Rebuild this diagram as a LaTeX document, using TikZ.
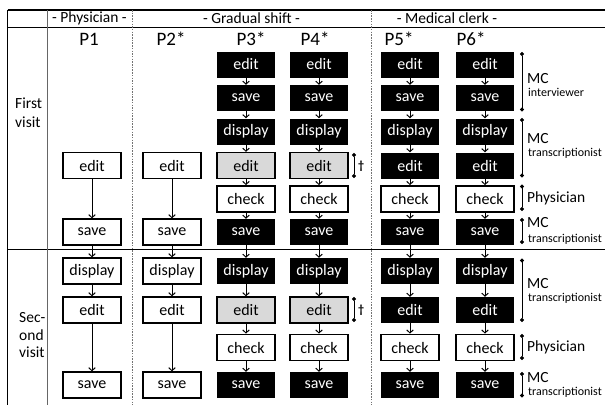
\documentclass[tikz,border=0pt]{standalone}
\usepackage{fontspec}
\setmainfont{Carlito}
\usetikzlibrary{arrows.meta}
\begin{document}
\begin{tikzpicture}[x=1pt,y=-1pt,
  box/.style={minimum width=58pt,minimum height=26pt,inner sep=0pt,font=\fontsize{16}{16}\selectfont},
  blk/.style={box,fill=black,text=white},
  wht/.style={box,draw=black,line width=1.3pt,fill=white},
  gry/.style={box,draw=black,line width=1.3pt,fill=black!15},
  chk/.style={box,draw=black,line width=1.8pt,fill=white},
  arr/.style={-{Straight Barb[length=3pt,width=6.5pt]},line width=1pt},
  brk/.style={line width=0.9pt,{Circle[length=4pt]}-{Circle[length=4pt]}},
  hdr/.style={font=\fontsize{15.5}{16}\selectfont,inner sep=0pt},
  plab/.style={font=\fontsize{19}{20}\selectfont,inner sep=0pt},
  role/.style={font=\fontsize{15.5}{16}\selectfont,inner sep=0pt,anchor=base west,text depth=0pt},
  rolec/.style={font=\fontsize{15.5}{16}\selectfont,inner sep=0pt,anchor=west},
  sub/.style={font=\fontsize{12}{13}\selectfont,inner sep=0pt,anchor=base west,text height=8pt},
  dag/.style={font=\fontsize{12}{13}\selectfont,inner sep=0pt,anchor=west},
  rule/.style={line width=0.9pt},
  grule/.style={line width=0.9pt,draw=black!60},
  dline/.style={line width=0.8pt,draw=black!55,dash pattern=on 1.5pt off 1.2pt}
]
\useasboundingbox (0,0) rectangle (605,405);
% table rules
\draw[line width=1.6pt] (7.5,10) -- (605,10);
\draw[rule] (7.5,27) -- (605,27);
\draw[rule] (7.5,249) -- (605,249);
\draw[rule] (7.5,10) -- (7.5,405);
\draw[grule] (47,10) -- (47,405);
\draw[dline] (132,10) -- (132,405);
\draw[dline] (371,10) -- (371,405);
% headers
\node[hdr] (h1) at (89.5,18.5) {- Physician -};
\node[hdr] (h2) at (251.5,18.5) {- Gradual shift -};
\node[hdr] (h3) at (447,18.5) {- Medical clerk -};
\node[plab] (l1) at (89,39) {P1};
\node[plab] (l2) at (171,39) {P2*};
\node[plab] (l3) at (251,39) {P3*};
\node[plab] (l4) at (315,39) {P4*};
\node[plab] (l5) at (399,39) {P5*};
\node[plab] (l6) at (471,39) {P6*};
\node[hdr,align=left,anchor=west,font=\fontsize{15.5}{19}\selectfont] (v1) at (15,112.5) {First\\visit};
\node[hdr,align=left,anchor=west,font=\fontsize{15.5}{17.5}\selectfont] (v2) at (19,335.5) {Sec-\\ond\\visit};
% P1 and P2
\foreach \c/\x in {1/92,2/172}{
  \node[wht] (p\c d) at (\x,165.5) {edit};
  \node[wht] (p\c f) at (\x,232) {save};
  \node[wht] (p\c g) at (\x,271) {display};
  \node[wht] (p\c h) at (\x,310) {edit};
  \node[wht] (p\c j) at (\x,385) {save};
  \draw[arr] (p\c d) -- (p\c f);
  \draw[arr] (p\c f) -- (p\c g);
  \draw[arr] (p\c g) -- (p\c h);
  \draw[arr] (p\c h) -- (p\c j);
}
% P3 to P6
\foreach \c/\x/\s in {3/246/gry,4/319/gry,5/410/blk,6/485/blk}{
  \node[blk] (p\c a) at (\x,64.5) {edit};
  \node[blk] (p\c b) at (\x,98) {save};
  \node[blk] (p\c c) at (\x,131.5) {display};
  \node[\s] (p\c d) at (\x,165.5) {edit};
  \node[chk] (p\c e) at (\x,199) {check};
  \node[blk] (p\c f) at (\x,232) {save};
  \node[blk] (p\c g) at (\x,271) {display};
  \node[\s] (p\c h) at (\x,310) {edit};
  \node[chk] (p\c i) at (\x,347.5) {check};
  \node[blk] (p\c j) at (\x,385) {save};
  \foreach \a/\b in {a/b,b/c,c/d,d/e,e/f,f/g,g/h,h/i,i/j}
    \draw[arr] (p\c\a) -- (p\c\b);
}
% daggers
\draw[brk] (354,153) -- (354,178);
\node[dag] (dg1) at (358,166) {\textbf{†}};
\draw[brk] (354,297) -- (354,322);
\node[dag] (dg2) at (358,310) {\textbf{†}};
% role brackets
\draw[brk] (522,52) -- (522,111.5);
\node[role] (r1) at (527,83) {MC};
\node[sub] (s1) at (528,96.5) {interviewer};
\draw[brk] (522,118) -- (522,177.5);
\node[role] (r2) at (527,143) {MC};
\node[sub] (s2) at (528,156.5) {transcriptionist};
\draw[brk] (522,184.5) -- (522,211);
\node[rolec] (r3) at (527,198) {Physician};
\draw[brk] (522,218) -- (522,244);
\node[role] (r4) at (527,227) {MC};
\node[sub] (s4) at (528,242) {transcriptionist};
\draw[brk] (522,258.5) -- (522,322);
\node[role] (r5) at (527,288) {MC};
\node[sub] (s5) at (528,301.5) {transcriptionist};
\draw[brk] (522,334) -- (522,360);
\node[rolec] (r6) at (527,347) {Physician};
\draw[brk] (522,372) -- (522,397.5);
\node[role] (r7) at (527,382) {MC};
\node[sub] (s7) at (528,395.5) {transcriptionist};
\end{tikzpicture}
\end{document}
